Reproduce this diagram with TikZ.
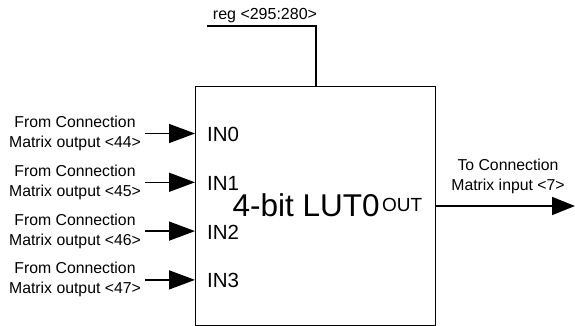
\documentclass[tikz,border=0pt]{standalone}
\usepackage{fontspec}
\setmainfont{Liberation Sans}
\usetikzlibrary{arrows.meta}
\begin{document}
\begin{tikzpicture}[x=1pt,y=-1pt,
  lbl/.style={font=\fontsize{15.8}{20}\selectfont, align=center, inner sep=0pt},
  pinlbl/.style={font=\fontsize{20.5}{24}\selectfont, anchor=base west, inner sep=0pt},
  wire/.style={line width=1.5pt},
  inarrow/.style={wire, -{Triangle[length=26pt,width=19pt]}},
  outarrow/.style={wire, -{Triangle[length=23pt,width=18pt]}}]
\useasboundingbox (0,0) rectangle (575,326);
% LUT box
\node[draw, line width=1.4pt, minimum width=240pt, minimum height=239pt,
      anchor=north west, inner sep=0pt] (lut) at (195,86) {};
\node[font=\fontsize{31.5}{34}\selectfont, anchor=base west, inner sep=0pt] (title) at (232.5,216.7) {4-bit LUT0};
\node[font=\fontsize{19}{22}\selectfont, anchor=base west, inner sep=0pt] (out) at ([xshift=2pt,yshift=5pt]title.base east) {OUT};
% top register wire
\node[font=\fontsize{16}{19}\selectfont, anchor=base, inner sep=0pt] (reg) at (265,19.5) {reg <295:280>};
\coordinate (regend) at (207,26);
\coordinate (tap) at (316,26);
\draw[wire] (regend) -- (tap) -- (tap |- lut.north);
% inputs
\foreach \k/\y/\n in {0/133.5/44, 1/182.3/45, 2/231.1/46, 3/279.9/47} {
  \coordinate (i\k) at (145,\y);
  \draw[inarrow] (i\k) -- (i\k -| lut.west);
  \node[lbl] (src\k) at (75,\y) {From Connection\\Matrix output <\n>};
  \node[pinlbl] (pin\k) at (207,\y+8) {IN\k};
}
% output
\coordinate (oend) at (575,206);
\draw[outarrow] (lut.east |- oend) -- (oend);
\node[lbl] (dst) at (508,176.5) {To Connection\\Matrix input <7>};
\end{tikzpicture}
\end{document}
